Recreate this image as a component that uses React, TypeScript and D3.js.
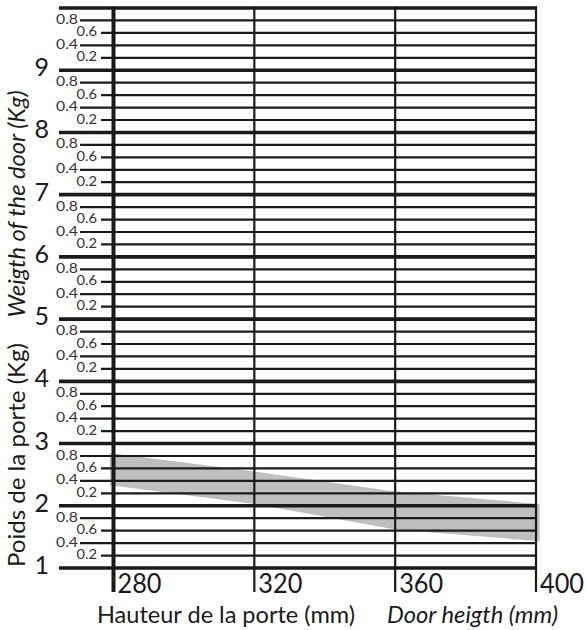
import React from "react";
import * as d3 from "d3";

const majorValues = [1, 2, 3, 4, 5, 6, 7, 8, 9, 10];
const majorLabels = ["1", "2", "3", "4", "5", "6", "7", "8", "9"];
const minorOffsets = [0.2, 0.4, 0.6, 0.8];
const minorLabels = ["0.2", "0.4", "0.6", "0.8"];
const xTicks = [280, 320, 360, 400];
const xTickLabels = ["280", "320", "360", "400"];

const bandHeight = [279, 320, 360, 401];
const bandUpper = [2.85, 2.55, 2.23, 2.03];
const bandLower = [2.33, 2.03, 1.62, 1.43];

const W = 587;
const H = 630;

export default function App() {
  const x = d3.scaleLinear().domain([280, 400]).range([113.5, 536]);
  const y = d3.scaleLinear().domain([1, 10]).range([568, 8]);

  const bandData = bandHeight.map((h, i) => ({ h, lo: bandLower[i], hi: bandUpper[i] }));
  const area = d3
    .area<{ h: number; lo: number; hi: number }>()
    .x((d) => x(d.h))
    .y0((d) => y(d.lo))
    .y1((d) => y(d.hi));

  const minors: { v: number; k: number }[] = [];
  majorValues.slice(0, -1).forEach((m) => {
    minorOffsets.forEach((o, k) => minors.push({ v: m + o, k }));
  });

  const xRight = x(400);
  const bottom = 592;
  const font = "Lato, 'Open Sans', sans-serif";
  const ink = "#1a1a1a";

  return (
    <svg
      width={W}
      height={H}
      style={{ position: "absolute", left: 0, top: 0, background: "#fff" }}
      fontFamily={font}
    >
      <path d={area(bandData) || ""} fill="#bebfbe" />

      {minors.map((d, i) => {
        const long = d.k === 1 || d.k === 3;
        const x0 = long ? 80 : 101;
        return (
          <g key={"mn" + i}>
            <line x1={x0} x2={xRight} y1={y(d.v)} y2={y(d.v)} stroke={ink} strokeWidth={2.2} />
            <text
              x={long ? 78 : 97}
              y={y(d.v) + 3.5}
              textAnchor="end"
              fontSize={13.5}
              textLength={long ? 22 : 20.5}
              lengthAdjust="spacingAndGlyphs"
              fill="#333"
            >
              {minorLabels[d.k]}
            </text>
          </g>
        );
      })}

      {majorValues.map((v) => (
        <line key={"mj" + v} x1={59} x2={xRight + 1} y1={y(v)} y2={y(v)} stroke={ink} strokeWidth={3.6} />
      ))}

      {majorLabels.map((l, i) => (
        <text
          key={"ml" + l}
          x={49}
          y={y(majorValues[i]) + 6}
          textAnchor="end"
          fontSize={25}
          fill={ink}
        >
          {l}
        </text>
      ))}

      {xTicks.map((t, i) => (
        <g key={"xt" + t}>
          <line
            x1={x(t)}
            x2={x(t)}
            y1={y(10) - 1.5}
            y2={bottom}
            stroke={ink}
            strokeWidth={i === 0 ? 4 : 2.2}
          />
          <text
            x={x(t) + 4}
            y={bottom + 1}
            fontSize={26}
            textLength={44}
            lengthAdjust="spacingAndGlyphs"
            fill={ink}
          >
            {xTickLabels[i]}
          </text>
        </g>
      ))}

      <text
        transform={`translate(25,455) rotate(-90)`}
        textAnchor="middle"
        fontSize={23.5}
        textLength={224}
        lengthAdjust="spacingAndGlyphs"
        fill={ink}
      >
        Poids de la porte (Kg)
      </text>
      <text
        transform={`translate(25,204) rotate(-90)`}
        textAnchor="middle"
        fontSize={23.5}
        fontStyle="italic"
        textLength={227}
        lengthAdjust="spacingAndGlyphs"
        fill={ink}
      >
        Weigth of the door (Kg)
      </text>

      <text
        x={97}
        y={623}
        fontSize={23.5}
        textLength={258}
        lengthAdjust="spacingAndGlyphs"
        fill={ink}
      >
        Hauteur de la porte (mm)
      </text>
      <text
        x={387}
        y={623}
        fontSize={23.5}
        fontStyle="italic"
        textLength={171}
        lengthAdjust="spacingAndGlyphs"
        fill={ink}
      >
        Door heigth (mm)
      </text>
    </svg>
  );
}
